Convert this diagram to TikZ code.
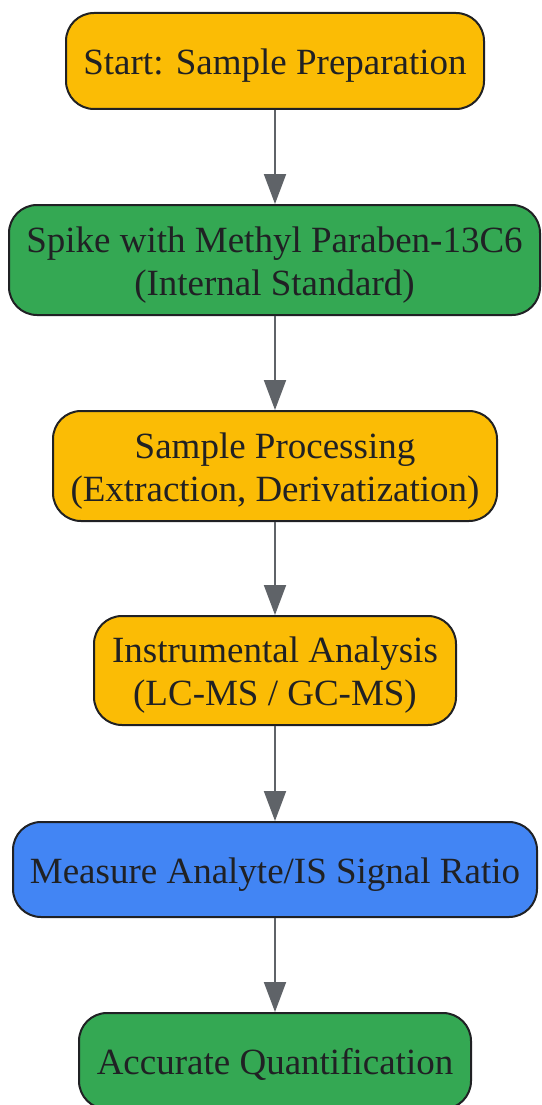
\documentclass[tikz,border=0pt]{standalone}
\usepackage{fontspec}
\setmainfont{Liberation Serif}
\usetikzlibrary{arrows.meta}
\definecolor{gyellow}{HTML}{FBBC05}
\definecolor{ggreen}{HTML}{34A853}
\definecolor{gblue}{HTML}{4285F4}
\definecolor{gtext}{HTML}{202124}
\definecolor{garrow}{HTML}{5F6368}
\newcommand\boxlbl[1]{\raisebox{-5pt}[\height][\depth]{\begin{tabular}{@{}c@{}}#1\end{tabular}}}
\begin{document}
\begin{tikzpicture}[x=1pt,y=-1pt,
  box/.style={draw=gtext, line width=2pt, rounded corners=28pt, align=center,
    text=gtext, inner sep=0pt,
    font=\fontsize{37}{43}\selectfont},
  flow/.style={draw=garrow, line width=2pt,
    -{Triangle[length=30pt,width=22pt]}}
]
\useasboundingbox (0,0) rectangle (541,1105);
\node[box, fill=gyellow, minimum width=418pt, minimum height=96pt] (start) at (275,61) {\boxlbl{Start: Sample Preparation}};
\node[box, fill=ggreen, minimum width=531pt, minimum height=110pt] (spike) at (274.5,260) {\boxlbl{Spike with Methyl Paraben-13C6\\(Internal Standard)}};
\node[box, fill=gyellow, minimum width=444pt, minimum height=110pt] (proc) at (275,466) {\boxlbl{Sample Processing\\(Extraction, Derivatization)}};
\node[box, fill=gyellow, minimum width=362pt, minimum height=109pt] (inst) at (275,670.5) {\boxlbl{Instrumental Analysis\\(LC-MS / GC-MS)}};
\node[box, fill=gblue, minimum width=524pt, minimum height=95pt] (meas) at (275,869.5) {\boxlbl{Measure Analyte/IS Signal Ratio}};
\node[box, fill=ggreen, minimum width=392pt, minimum height=96pt] (acc) at (275,1061) {\boxlbl{Accurate Quantification}};
\draw[flow] (start.south) -- (spike.north -| start.south);
\draw[flow] (spike.south -| start.south) -- (proc.north);
\draw[flow] (proc.south) -- (inst.north);
\draw[flow] (inst.south) -- (meas.north);
\draw[flow] (meas.south) -- (acc.north);
\end{tikzpicture}
\end{document}
